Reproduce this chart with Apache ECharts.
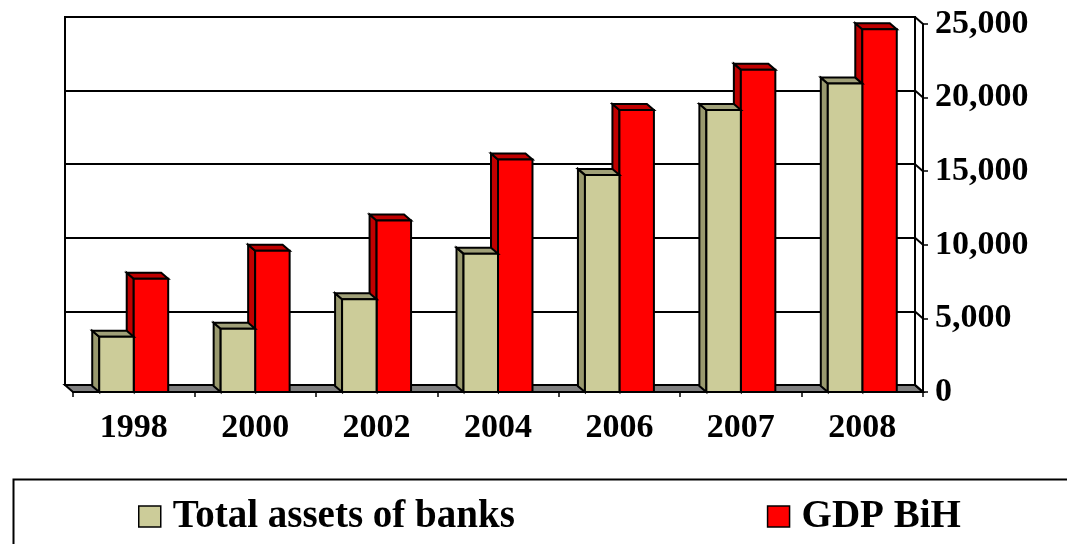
<!DOCTYPE html>
<html>
<head>
<meta charset="utf-8">
<script src="https://cdn.jsdelivr.net/npm/echarts@6/dist/echarts.min.js"></script>
<style>
html,body{margin:0;padding:0;background:#fff;}
#chart{width:1067px;height:544px;}
</style>
</head>
<body>
<div id="chart"></div>
<script>
var categories = ['1998', '2000', '2002', '2004', '2006', '2007', '2008'];
var totalAssets = [3750, 4300, 6300, 9400, 14750, 19150, 20950];
var gdpBiH = [7700, 9600, 11650, 15800, 19150, 21900, 24650];
var valueTicks = [0, 5000, 10000, 15000, 20000, 25000];
var seriesNames = ['Total assets of banks', 'GDP BiH'];

var FONT = "'Liberation Serif', 'Times New Roman', serif";
var WALL_DX = 8, WALL_DY = 7;
var BAR_DX = 7, BAR_DY = 6;
var BAR_FRAC = 0.284;

function bar3D(frontColor, sideColor, topColor, sign) {
  return function (params, api) {
    var idx = api.value(0), v = api.value(1);
    var p = api.coord([idx, v]);
    var p0 = api.coord([idx, 0]);
    var cw = api.size([1, 0])[0];
    var w = cw * BAR_FRAC;
    var x0 = sign < 0 ? p[0] - w : p[0];
    var x1 = x0 + w;
    var yt = p[1], yb = p0[1];
    var st = {stroke: '#000', lineWidth: 2, lineJoin: 'miter'};
    return {
      type: 'group',
      children: [
        {type: 'polygon', shape: {points: [[x0 - BAR_DX, yt - BAR_DY], [x0, yt], [x0, yb], [x0 - BAR_DX, yb - BAR_DY]]},
          style: Object.assign({fill: sideColor}, st)},
        {type: 'polygon', shape: {points: [[x0 - BAR_DX, yt - BAR_DY], [x1 - BAR_DX, yt - BAR_DY], [x1, yt], [x0, yt]]},
          style: Object.assign({fill: topColor}, st)},
        {type: 'rect', shape: {x: x0, y: yt, width: w, height: yb - yt},
          style: Object.assign({fill: frontColor}, st)}
      ]
    };
  };
}

function floorItem(params, api) {
  var cs = params.coordSys;
  var xl = cs.x, xr = cs.x + cs.width, yb = cs.y + cs.height;
  return {
    type: 'polygon',
    shape: {points: [[xl - WALL_DX, yb - WALL_DY], [xr - WALL_DX, yb - WALL_DY], [xr, yb], [xl, yb]]},
    style: {fill: '#808080', stroke: '#000', lineWidth: 2}
  };
}

function sideWallItem(params, api) {
  var cs = params.coordSys;
  var xr = cs.x + cs.width;
  var p = api.coord([0, api.value(1)]);
  return {
    type: 'line',
    shape: {x1: xr - WALL_DX, y1: p[1] - WALL_DY, x2: xr, y2: p[1]},
    style: {stroke: '#000', lineWidth: 2}
  };
}

var chart = echarts.init(document.getElementById('chart'), null, {renderer: 'canvas'});

var option = {
  animation: false,
  backgroundColor: '#fff',
  grid: [
    {left: 73, right: 144, top: 24, bottom: 152, show: false},
    {left: 73 - WALL_DX, right: 144 + WALL_DX, top: 24 - WALL_DY, bottom: 152 + WALL_DY,
      show: true, borderColor: '#000', borderWidth: 2, backgroundColor: '#fff'}
  ],
  xAxis: [
    {
      type: 'category', gridIndex: 0, data: categories, boundaryGap: true,
      axisLine: {show: true, lineStyle: {color: '#000', width: 2}},
      axisTick: {show: true, length: 5, lineStyle: {color: '#000', width: 1.5}},
      axisLabel: {margin: 19, color: '#000', fontFamily: FONT, fontWeight: 'bold', fontSize: 34},
      z: 5
    },
    {
      type: 'category', gridIndex: 1, data: categories, boundaryGap: true,
      axisLine: {show: false}, axisTick: {show: false}, axisLabel: {show: false}
    }
  ],
  yAxis: [
    {
      type: 'value', gridIndex: 0, position: 'right', min: 0, max: 25000, interval: 5000,
      axisLine: {show: true, lineStyle: {color: '#000', width: 2}},
      axisTick: {show: true, inside: false, length: 5, lineStyle: {color: '#000', width: 1.5}},
      axisLabel: {
        margin: 12, color: '#000', fontFamily: FONT, fontWeight: 'bold', fontSize: 34,
        formatter: function (v) { return v.toLocaleString('en-US'); }
      },
      splitLine: {show: false}
    },
    {
      type: 'value', gridIndex: 1, min: 0, max: 25000, interval: 5000,
      axisLine: {show: false}, axisTick: {show: false}, axisLabel: {show: false},
      splitLine: {show: true, lineStyle: {color: '#000', width: 2}}
    }
  ],
  legend: {
    data: [
      {name: seriesNames[0], icon: 'rect'},
      {name: seriesNames[1], icon: 'rect'}
    ],
    left: 133, top: 492,
    itemWidth: 22, itemHeight: 21, itemGap: 252,
    itemStyle: {borderColor: '#000', borderWidth: 1.5},
    textStyle: {color: '#000', fontFamily: FONT, fontWeight: 'bold', fontSize: 39, padding: [0, 0, 0, 7]}
  },
  graphic: [
    {type: 'rect', left: 11, top: 477, shape: {width: 1100, height: 100},
      style: {fill: 'none', stroke: '#000', lineWidth: 2}, z: 0}
  ],
  series: [
    {
      type: 'custom', name: 'floor', xAxisIndex: 0, yAxisIndex: 0,
      data: [[0, 0]], renderItem: floorItem, z: 1, silent: true
    },
    {
      type: 'custom', name: 'sidewall', xAxisIndex: 0, yAxisIndex: 0,
      data: valueTicks.map(function (v) { return [0, v]; }), renderItem: sideWallItem, z: 1, silent: true
    },
    {
      type: 'custom', name: seriesNames[1], xAxisIndex: 0, yAxisIndex: 0,
      itemStyle: {color: '#FF0000', borderColor: '#000', borderWidth: 1.5},
      data: gdpBiH.map(function (v, i) { return [i, v]; }),
      encode: {x: 0, y: 1},
      renderItem: bar3D('#FF0000', '#C00000', '#C00000', 1), z: 3
    },
    {
      type: 'custom', name: seriesNames[0], xAxisIndex: 0, yAxisIndex: 0,
      itemStyle: {color: '#CCCC99', borderColor: '#000', borderWidth: 1.5},
      data: totalAssets.map(function (v, i) { return [i, v]; }),
      encode: {x: 0, y: 1},
      renderItem: bar3D('#CCCC99', '#99996E', '#A0A078', -1), z: 4
    }
  ]
};
chart.setOption(option);
</script>
</body>
</html>
